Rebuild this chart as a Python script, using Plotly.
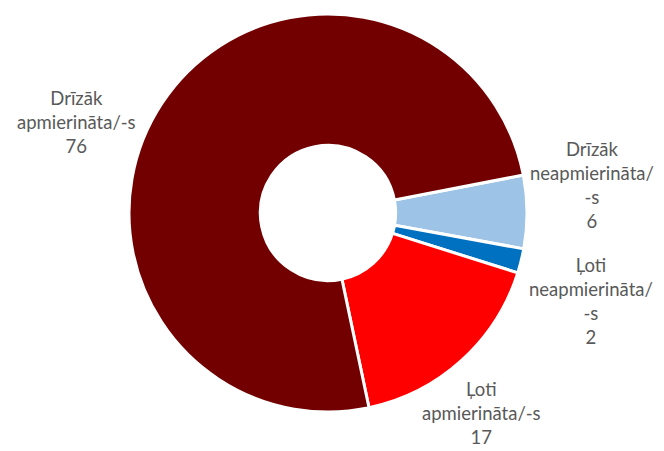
import plotly.graph_objects as go

# Data (clockwise order starting on the right side)
categories = ["Drīzāk neapmierināta/-s", "Ļoti neapmierināta/-s", "Ļoti apmierināta/-s", "Drīzāk apmierināta/-s"]
label_lines = [["Drīzāk", "neapmierināta/", "-s"], ["Ļoti", "neapmierināta/", "-s"],
               ["Ļoti", "apmierināta/-s"], ["Drīzāk", "apmierināta/-s"]]
values = [6, 2, 17, 76]
colors = ["#9DC3E6", "#0070C0", "#FF0000", "#720000"]

# label placement (paper coords), layout only
label_pos = [(0.8916, 0.5898), (0.8901, 0.3326), (0.7259, 0.0843), (0.1145, 0.7295)]

fig = go.Figure(go.Pie(
    labels=categories,
    values=values,
    hole=0.34,
    sort=False,
    direction="clockwise",
    rotation=79,
    marker=dict(colors=colors, line=dict(color="white", width=3)),
    textinfo="none",
    hoverinfo="label+value",
    showlegend=False,
    domain=dict(x=[128/664, 528/664], y=[1-412/451, 1-14/451]),
))

annotations = []
for lines, v, (x, y) in zip(label_lines, values, label_pos):
    annotations.append(dict(
        text="<br>".join(lines + [str(v)]),
        x=x, y=y, xref="paper", yref="paper",
        xanchor="center", yanchor="middle", align="center",
        showarrow=False,
        font=dict(family="Lato, Carlito, sans-serif", size=18.5, color="#595959"),
    ))

fig.update_layout(
    width=664, height=451,
    margin=dict(l=0, r=0, t=0, b=0),
    paper_bgcolor="white", plot_bgcolor="white",
    annotations=annotations,
)

fig.write_html("out.html")
